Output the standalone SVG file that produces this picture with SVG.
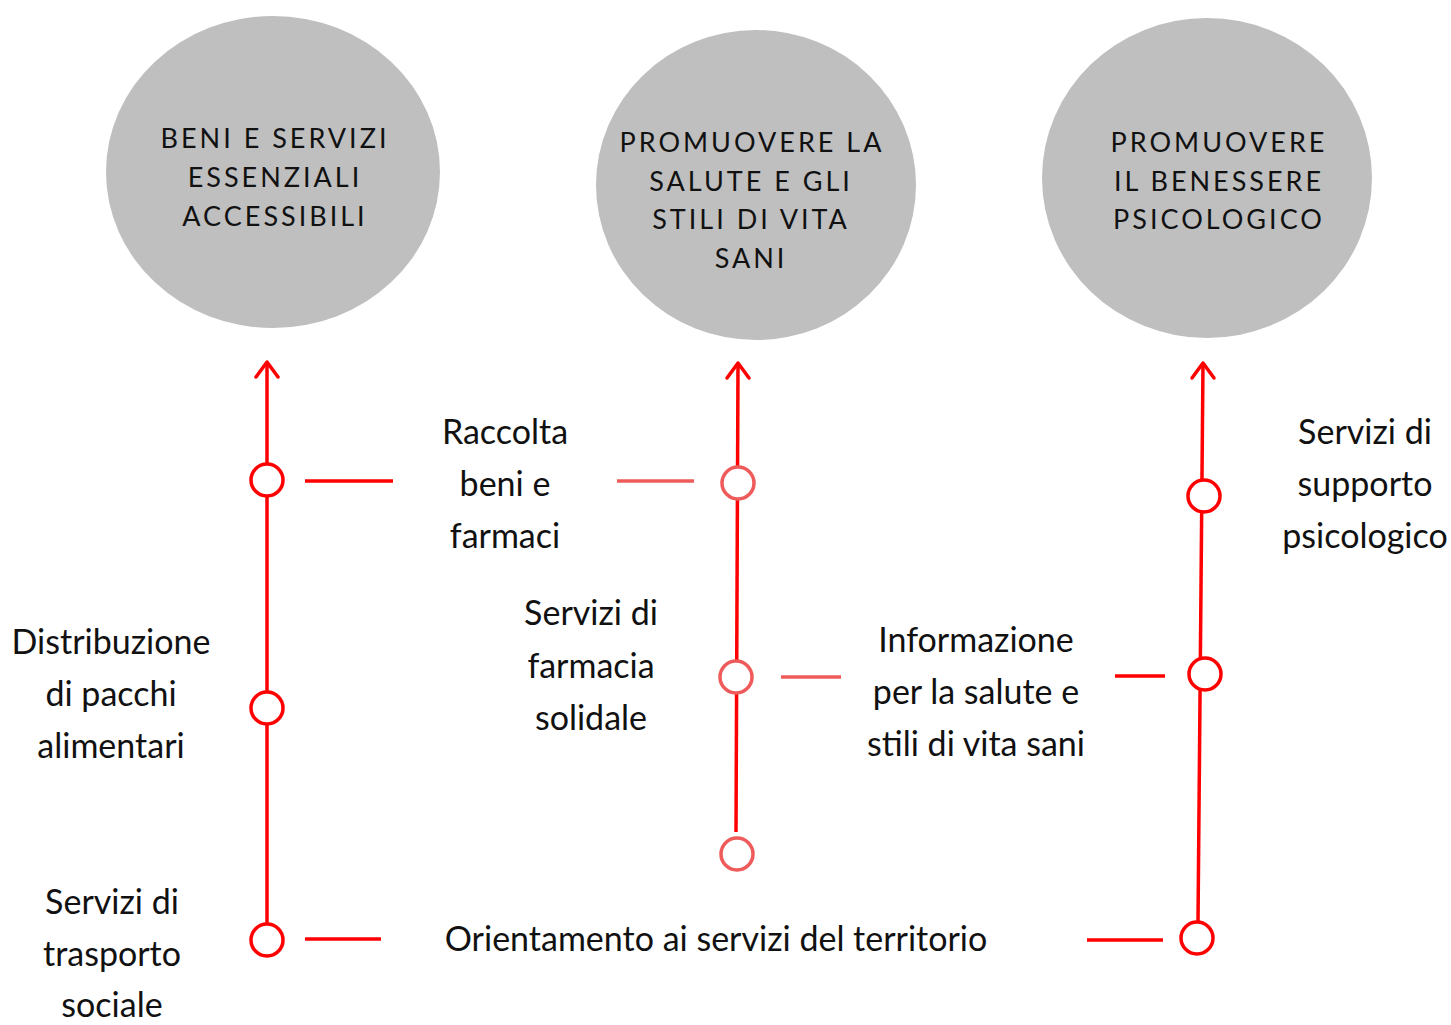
<svg xmlns="http://www.w3.org/2000/svg" width="1451" height="1025" viewBox="0 0 1451 1025">
<defs>
<style>
.big{fill:#BFBFBF}
.tt{font-family:Lato,"Open Sans","Liberation Sans",sans-serif;font-size:27px;letter-spacing:3px;fill:#111;text-anchor:middle}
.lb{font-family:Lato,"Open Sans","Liberation Sans",sans-serif;font-size:34px;fill:#111;text-anchor:middle}
.ln{stroke:#FF0000;stroke-width:3.5;fill:none;stroke-linecap:butt}
.lt{stroke:#EF5B5B;stroke-width:3.5;fill:none}
.nd{fill:#fff;stroke:#FF0000;stroke-width:3.5}
.ndl{fill:#fff;stroke:#EF5B5B;stroke-width:3.5}
.ah{stroke:#FF0000;stroke-width:3.5;fill:none;stroke-linecap:round;stroke-linejoin:round}
</style>
</defs>
<rect width="1451" height="1025" fill="#fff"/>
<g id="goal1">
<ellipse class="big" cx="273" cy="172" rx="167" ry="156"/>
<text class="tt"><tspan x="275" y="148">BENI E SERVIZI</tspan><tspan x="275" y="187">ESSENZIALI</tspan><tspan x="275" y="226">ACCESSIBILI</tspan></text>
</g>
<g id="goal2">
<ellipse class="big" cx="756" cy="185" rx="160" ry="155"/>
<text class="tt"><tspan x="752" y="152">PROMUOVERE LA</tspan><tspan x="751" y="191">SALUTE E GLI</tspan><tspan x="751" y="229">STILI DI VITA</tspan><tspan x="751" y="268">SANI</tspan></text>
</g>
<g id="goal3">
<ellipse class="big" cx="1207" cy="178" rx="165" ry="160"/>
<text class="tt"><tspan x="1219" y="152">PROMUOVERE</tspan><tspan x="1219" y="191">IL BENESSERE</tspan><tspan x="1219" y="229">PSICOLOGICO</tspan></text>
</g>
<g id="connectors">
<line class="ln" x1="267" y1="362" x2="267" y2="924"/>
<polyline class="ah" points="256,377 267,362 278,377"/>
<line class="ln" x1="738" y1="364" x2="736" y2="832"/>
<polyline class="ah" points="727,378 738,363 749,378"/>
<line class="ln" x1="1203" y1="364" x2="1198" y2="922"/>
<polyline class="ah" points="1192,378 1203,363 1214,378"/>
<line class="ln" x1="305" y1="481" x2="393" y2="481"/>
<line class="lt" x1="617" y1="481" x2="694" y2="481"/>
<line class="lt" x1="781" y1="677" x2="841" y2="677"/>
<line class="ln" x1="1115" y1="676" x2="1165" y2="676"/>
<line class="ln" x1="305" y1="939" x2="381" y2="939"/>
<line class="ln" x1="1087" y1="940" x2="1163" y2="940"/>
</g>
<g id="n1a"><circle class="nd" cx="267" cy="480" r="16"/></g>
<g id="n1b"><circle class="nd" cx="267" cy="708" r="16"/></g>
<g id="n1c"><circle class="nd" cx="267" cy="940" r="16"/></g>
<g id="n2a"><circle class="ndl" cx="738" cy="483" r="16"/></g>
<g id="n2b"><circle class="ndl" cx="736" cy="677" r="16"/></g>
<g id="n2c"><circle class="ndl" cx="737" cy="854" r="16"/></g>
<g id="n3a"><circle class="nd" cx="1204" cy="496" r="16"/></g>
<g id="n3b"><circle class="nd" cx="1205" cy="674" r="16"/></g>
<g id="n3c"><circle class="nd" cx="1197" cy="938" r="16"/></g>
<g id="labels">
<text class="lb"><tspan x="505" y="444">Raccolta</tspan><tspan x="505" y="496">beni e</tspan><tspan x="505" y="548">farmaci</tspan></text>
<text class="lb"><tspan x="111" y="654">Distribuzione</tspan><tspan x="111" y="706">di pacchi</tspan><tspan x="111" y="758">alimentari</tspan></text>
<text class="lb"><tspan x="591" y="625">Servizi di</tspan><tspan x="591" y="678">farmacia</tspan><tspan x="591" y="730">solidale</tspan></text>
<text class="lb"><tspan x="976" y="652">Informazione</tspan><tspan x="976" y="704">per la salute e</tspan><tspan x="976" y="756">stili di vita sani</tspan></text>
<text class="lb"><tspan x="1365" y="444">Servizi di</tspan><tspan x="1365" y="496">supporto</tspan><tspan x="1365" y="548">psicologico</tspan></text>
<text class="lb"><tspan x="112" y="914">Servizi di</tspan><tspan x="112" y="966">trasporto</tspan><tspan x="112" y="1017">sociale</tspan></text>
<text class="lb" x="716" y="951">Orientamento ai servizi del territorio</text>
</g>
</svg>
